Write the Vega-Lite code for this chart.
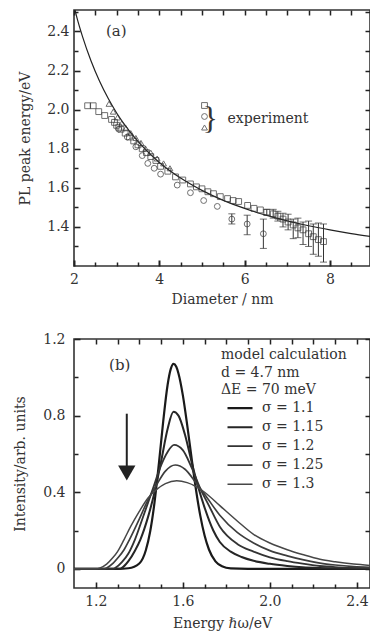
{
  "$schema": "https://vega.github.io/schema/vega-lite/v6.json",
  "padding": {"left": 12, "top": 8, "right": 0, "bottom": 0},
  "spacing": 24,
  "resolve": {"legend": {"color": "independent", "strokeWidth": "independent", "shape": "independent"}},
  "config": {
    "view": {"stroke": "#333", "strokeWidth": 1.6},
    "axis": {"grid": false, "domain": false, "labelFont": "DejaVu Serif", "titleFont": "DejaVu Serif", "labelFontSize": 14, "titleFontSize": 14, "titleFontWeight": "normal", "labelColor": "#333", "titleColor": "#333", "labelFlush": false, "labelOverlap": false},
    "text": {"font": "DejaVu Serif", "color": "#333"}
  },
  "datasets": {
    "theory": [
      {"d": 2.0, "E": 2.53}, {"d": 2.07, "E": 2.47}, {"d": 2.2, "E": 2.374}, {"d": 2.4, "E": 2.249}, {"d": 2.6, "E": 2.145}, {"d": 2.8, "E": 2.058}, {"d": 3.0, "E": 1.983}, {"d": 3.3, "E": 1.89}, {"d": 3.6, "E": 1.813}, {"d": 4.0, "E": 1.73}, {"d": 4.5, "E": 1.65}, {"d": 5.0, "E": 1.587}, {"d": 5.5, "E": 1.536}, {"d": 6.0, "E": 1.495}, {"d": 6.5, "E": 1.46}, {"d": 7.0, "E": 1.431}, {"d": 7.5, "E": 1.406}, {"d": 8.0, "E": 1.385}, {"d": 8.5, "E": 1.366}, {"d": 8.95, "E": 1.351}
    ],
    "pts": [
      {"d": 2.32, "E": 2.02, "t": "sq"}, {"d": 2.45, "E": 2.02, "t": "sq"}, {"d": 2.58, "E": 1.99, "t": "sq"}, {"d": 2.72, "E": 1.97, "t": "sq"}, {"d": 2.88, "E": 1.95, "t": "sq"}, {"d": 2.95, "E": 1.935, "t": "sq"}, {"d": 3.0, "E": 1.92, "t": "sq"}, {"d": 3.05, "E": 1.91, "t": "sq"}, {"d": 3.1, "E": 1.9, "t": "sq"}, {"d": 3.2, "E": 1.88, "t": "sq"}, {"d": 3.3, "E": 1.86, "t": "sq"}, {"d": 3.4, "E": 1.84, "t": "sq"}, {"d": 3.5, "E": 1.82, "t": "sq"}, {"d": 3.6, "E": 1.8, "t": "sq"}, {"d": 3.7, "E": 1.78, "t": "sq"}, {"d": 3.8, "E": 1.76, "t": "sq"}, {"d": 3.92, "E": 1.74, "t": "sq"}, {"d": 4.03, "E": 1.71, "t": "sq"}, {"d": 4.2, "E": 1.685, "t": "sq"}, {"d": 4.38, "E": 1.656, "t": "sq"}, {"d": 4.55, "E": 1.64, "t": "sq"}, {"d": 4.73, "E": 1.62, "t": "sq"}, {"d": 4.87, "E": 1.605, "t": "sq"}, {"d": 5.0, "E": 1.595, "t": "sq"}, {"d": 5.14, "E": 1.58, "t": "sq"}, {"d": 5.27, "E": 1.57, "t": "sq"}, {"d": 5.43, "E": 1.555, "t": "sq"}, {"d": 5.6, "E": 1.545, "t": "sq"}, {"d": 5.73, "E": 1.535, "t": "sq"}, {"d": 5.86, "E": 1.53, "t": "sq"}, {"d": 6.07, "E": 1.51, "t": "sq"}, {"d": 6.22, "E": 1.495, "t": "sq"}, {"d": 6.37, "E": 1.487, "t": "sq"},
      {"d": 6.52, "E": 1.475, "t": "sq", "lo": 1.46, "hi": 1.49}, {"d": 6.67, "E": 1.467, "t": "sq", "lo": 1.445, "hi": 1.49}, {"d": 6.78, "E": 1.455, "t": "sq", "lo": 1.43, "hi": 1.48}, {"d": 6.9, "E": 1.44, "t": "sq", "lo": 1.4, "hi": 1.47}, {"d": 7.02, "E": 1.425, "t": "sq", "lo": 1.385, "hi": 1.465}, {"d": 7.14, "E": 1.41, "t": "sq", "lo": 1.34, "hi": 1.44}, {"d": 7.25, "E": 1.395, "t": "sq", "lo": 1.345, "hi": 1.445}, {"d": 7.37, "E": 1.385, "t": "sq", "lo": 1.31, "hi": 1.425}, {"d": 7.5, "E": 1.365, "t": "sq", "lo": 1.3, "hi": 1.43}, {"d": 7.61, "E": 1.35, "t": "sq", "lo": 1.26, "hi": 1.415}, {"d": 7.73, "E": 1.335, "t": "sq", "lo": 1.25, "hi": 1.42}, {"d": 7.85, "E": 1.325, "t": "sq", "lo": 1.22, "hi": 1.415},
      {"d": 3.05, "E": 1.9, "t": "ci"}, {"d": 3.25, "E": 1.86, "t": "ci"}, {"d": 3.45, "E": 1.81, "t": "ci"}, {"d": 3.6, "E": 1.765, "t": "ci"}, {"d": 3.73, "E": 1.725, "t": "ci"}, {"d": 3.88, "E": 1.7, "t": "ci"}, {"d": 4.03, "E": 1.67, "t": "ci"}, {"d": 4.42, "E": 1.614, "t": "ci"}, {"d": 4.73, "E": 1.575, "t": "ci"}, {"d": 5.04, "E": 1.535, "t": "ci"}, {"d": 5.36, "E": 1.505, "t": "ci"}, {"d": 5.7, "E": 1.44, "t": "ci", "lo": 1.415, "hi": 1.467}, {"d": 6.06, "E": 1.415, "t": "ci", "lo": 1.36, "hi": 1.46}, {"d": 6.44, "E": 1.365, "t": "ci", "lo": 1.29, "hi": 1.44},
      {"d": 2.82, "E": 2.03, "t": "tr"}, {"d": 2.92, "E": 1.99, "t": "tr"}, {"d": 3.02, "E": 1.96, "t": "tr"}, {"d": 3.12, "E": 1.93, "t": "tr"}, {"d": 3.22, "E": 1.905, "t": "tr"}, {"d": 3.33, "E": 1.88, "t": "tr"}, {"d": 3.45, "E": 1.855, "t": "tr"}, {"d": 3.57, "E": 1.83, "t": "tr"}, {"d": 3.68, "E": 1.8, "t": "tr"}, {"d": 3.8, "E": 1.78, "t": "tr"}, {"d": 3.95, "E": 1.75, "t": "tr"}, {"d": 4.1, "E": 1.725, "t": "tr"}, {"d": 4.25, "E": 1.7, "t": "tr"}
    ],
    "spec": [
      {"s": "1.1", "e": 1.1, "I": 0}, {"s": "1.1", "e": 1.3, "I": 0}, {"s": "1.1", "e": 1.35, "I": 0.003}, {"s": "1.1", "e": 1.4, "I": 0.028}, {"s": "1.1", "e": 1.43, "I": 0.097}, {"s": "1.1", "e": 1.45, "I": 0.195}, {"s": "1.1", "e": 1.47, "I": 0.347}, {"s": "1.1", "e": 1.49, "I": 0.549}, {"s": "1.1", "e": 1.51, "I": 0.771}, {"s": "1.1", "e": 1.53, "I": 0.96}, {"s": "1.1", "e": 1.545, "I": 1.045}, {"s": "1.1", "e": 1.557, "I": 1.07}, {"s": "1.1", "e": 1.57, "I": 1.055}, {"s": "1.1", "e": 1.58, "I": 1.02}, {"s": "1.1", "e": 1.6, "I": 0.907}, {"s": "1.1", "e": 1.62, "I": 0.752}, {"s": "1.1", "e": 1.64, "I": 0.58}, {"s": "1.1", "e": 1.66, "I": 0.417}, {"s": "1.1", "e": 1.68, "I": 0.279}, {"s": "1.1", "e": 1.7, "I": 0.174}, {"s": "1.1", "e": 1.72, "I": 0.101}, {"s": "1.1", "e": 1.75, "I": 0.039}, {"s": "1.1", "e": 1.78, "I": 0.013}, {"s": "1.1", "e": 1.82, "I": 0.002}, {"s": "1.1", "e": 1.9, "I": 0}, {"s": "1.1", "e": 2.46, "I": 0},
      {"s": "1.15", "e": 1.1, "I": 0}, {"s": "1.15", "e": 1.31, "I": 0}, {"s": "1.15", "e": 1.32, "I": 0.005}, {"s": "1.15", "e": 1.35, "I": 0.04}, {"s": "1.15", "e": 1.38, "I": 0.095}, {"s": "1.15", "e": 1.405, "I": 0.153}, {"s": "1.15", "e": 1.44, "I": 0.27}, {"s": "1.15", "e": 1.47, "I": 0.4}, {"s": "1.15", "e": 1.5, "I": 0.56}, {"s": "1.15", "e": 1.53, "I": 0.73}, {"s": "1.15", "e": 1.557, "I": 0.82}, {"s": "1.15", "e": 1.58, "I": 0.8}, {"s": "1.15", "e": 1.61, "I": 0.7}, {"s": "1.15", "e": 1.64, "I": 0.56}, {"s": "1.15", "e": 1.67, "I": 0.43}, {"s": "1.15", "e": 1.7, "I": 0.32}, {"s": "1.15", "e": 1.74, "I": 0.2}, {"s": "1.15", "e": 1.77, "I": 0.14}, {"s": "1.15", "e": 1.82, "I": 0.09}, {"s": "1.15", "e": 1.87, "I": 0.062}, {"s": "1.15", "e": 1.925, "I": 0.042}, {"s": "1.15", "e": 2.0, "I": 0.026}, {"s": "1.15", "e": 2.08, "I": 0.015}, {"s": "1.15", "e": 2.15, "I": 0.008}, {"s": "1.15", "e": 2.23, "I": 0.004}, {"s": "1.15", "e": 2.3, "I": 0.002}, {"s": "1.15", "e": 2.46, "I": 0},
      {"s": "1.2", "e": 1.1, "I": 0}, {"s": "1.2", "e": 1.28, "I": 0}, {"s": "1.2", "e": 1.29, "I": 0.005}, {"s": "1.2", "e": 1.32, "I": 0.035}, {"s": "1.2", "e": 1.35, "I": 0.08}, {"s": "1.2", "e": 1.38, "I": 0.153}, {"s": "1.2", "e": 1.42, "I": 0.28}, {"s": "1.2", "e": 1.46, "I": 0.41}, {"s": "1.2", "e": 1.5, "I": 0.54}, {"s": "1.2", "e": 1.53, "I": 0.61}, {"s": "1.2", "e": 1.56, "I": 0.647}, {"s": "1.2", "e": 1.6, "I": 0.62}, {"s": "1.2", "e": 1.64, "I": 0.53}, {"s": "1.2", "e": 1.68, "I": 0.42}, {"s": "1.2", "e": 1.72, "I": 0.33}, {"s": "1.2", "e": 1.77, "I": 0.22}, {"s": "1.2", "e": 1.85, "I": 0.13}, {"s": "1.2", "e": 1.925, "I": 0.09}, {"s": "1.2", "e": 2.0, "I": 0.06}, {"s": "1.2", "e": 2.08, "I": 0.04}, {"s": "1.2", "e": 2.15, "I": 0.027}, {"s": "1.2", "e": 2.23, "I": 0.015}, {"s": "1.2", "e": 2.3, "I": 0.009}, {"s": "1.2", "e": 2.385, "I": 0.005}, {"s": "1.2", "e": 2.46, "I": 0.003},
      {"s": "1.25", "e": 1.1, "I": 0}, {"s": "1.25", "e": 1.24, "I": 0}, {"s": "1.25", "e": 1.25, "I": 0.005}, {"s": "1.25", "e": 1.28, "I": 0.03}, {"s": "1.25", "e": 1.3, "I": 0.055}, {"s": "1.25", "e": 1.33, "I": 0.1}, {"s": "1.25", "e": 1.355, "I": 0.153}, {"s": "1.25", "e": 1.4, "I": 0.26}, {"s": "1.25", "e": 1.44, "I": 0.36}, {"s": "1.25", "e": 1.48, "I": 0.44}, {"s": "1.25", "e": 1.52, "I": 0.51}, {"s": "1.25", "e": 1.565, "I": 0.542}, {"s": "1.25", "e": 1.61, "I": 0.52}, {"s": "1.25", "e": 1.66, "I": 0.45}, {"s": "1.25", "e": 1.7, "I": 0.39}, {"s": "1.25", "e": 1.77, "I": 0.28}, {"s": "1.25", "e": 1.85, "I": 0.19}, {"s": "1.25", "e": 1.925, "I": 0.135}, {"s": "1.25", "e": 2.0, "I": 0.095}, {"s": "1.25", "e": 2.08, "I": 0.068}, {"s": "1.25", "e": 2.15, "I": 0.048}, {"s": "1.25", "e": 2.23, "I": 0.03}, {"s": "1.25", "e": 2.3, "I": 0.02}, {"s": "1.25", "e": 2.385, "I": 0.012}, {"s": "1.25", "e": 2.46, "I": 0.008},
      {"s": "1.3", "e": 1.1, "I": 0}, {"s": "1.3", "e": 1.2, "I": 0}, {"s": "1.3", "e": 1.22, "I": 0.005}, {"s": "1.3", "e": 1.25, "I": 0.025}, {"s": "1.3", "e": 1.28, "I": 0.06}, {"s": "1.3", "e": 1.3, "I": 0.09}, {"s": "1.3", "e": 1.33, "I": 0.153}, {"s": "1.3", "e": 1.36, "I": 0.22}, {"s": "1.3", "e": 1.4, "I": 0.3}, {"s": "1.3", "e": 1.44, "I": 0.37}, {"s": "1.3", "e": 1.48, "I": 0.415}, {"s": "1.3", "e": 1.52, "I": 0.445}, {"s": "1.3", "e": 1.572, "I": 0.46}, {"s": "1.3", "e": 1.62, "I": 0.45}, {"s": "1.3", "e": 1.66, "I": 0.43}, {"s": "1.3", "e": 1.7, "I": 0.4}, {"s": "1.3", "e": 1.77, "I": 0.33}, {"s": "1.3", "e": 1.85, "I": 0.25}, {"s": "1.3", "e": 1.925, "I": 0.18}, {"s": "1.3", "e": 2.0, "I": 0.135}, {"s": "1.3", "e": 2.08, "I": 0.1}, {"s": "1.3", "e": 2.15, "I": 0.075}, {"s": "1.3", "e": 2.23, "I": 0.05}, {"s": "1.3", "e": 2.3, "I": 0.037}, {"s": "1.3", "e": 2.385, "I": 0.025}, {"s": "1.3", "e": 2.46, "I": 0.018}
    ]
  },
  "vconcat": [
    {
      "width": 296,
      "height": 256,
      "resolve": {"axis": {"x": "independent", "y": "independent"}},
      "layer": [
        {
          "data": {"name": "theory"},
          "mark": {"type": "line", "color": "#222", "strokeWidth": 1.2, "clip": true, "interpolate": "monotone"},
          "encoding": {
            "x": {"field": "d", "type": "quantitative", "scale": {"domain": [2, 8.94], "nice": false, "zero": false},
              "axis": {"orient": "bottom", "values": [2, 4, 6, 8], "format": "d", "ticks": false, "labelPadding": 6, "title": "Diameter / nm", "titlePadding": 6}},
            "y": {"field": "E", "type": "quantitative", "scale": {"domain": [1.2, 2.51], "nice": false, "zero": false},
              "axis": {"orient": "left", "values": [1.4, 1.6, 1.8, 2.0, 2.2, 2.4], "format": ".1f", "ticks": false, "labelPadding": 5, "title": "PL peak energy/eV", "titlePadding": 14}}
          }
        },
        {
          "data": {"name": "pts"},
          "mark": {"type": "point", "filled": false, "size": 34, "stroke": "#333", "strokeWidth": 1, "clip": true},
          "encoding": {
            "x": {"field": "d", "type": "quantitative",
              "axis": {"orient": "bottom", "values": [2, 4, 6, 8], "labels": false, "tickSize": -6, "tickColor": "#222", "tickWidth": 2, "title": null}},
            "y": {"field": "E", "type": "quantitative",
              "axis": {"orient": "left", "values": [1.4, 1.6, 1.8, 2.0, 2.2, 2.4], "labels": false, "tickSize": -6, "tickColor": "#222", "tickWidth": 1.6, "title": null}},
            "shape": {"field": "t", "type": "nominal", "scale": {"domain": ["sq", "ci", "tr"], "range": ["square", "circle", "triangle-up"]},
              "legend": {"orient": "none", "legendX": 125.5, "legendY": 90, "title": null, "padding": 0, "symbolSize": 34, "symbolStrokeColor": "#333", "symbolStrokeWidth": 1, "symbolFillColor": "transparent", "clipHeight": 11, "rowPadding": 0, "symbolOffset": 0, "labelExpr": "''"}}
          }
        },
        {
          "data": {"name": "pts"},
          "transform": [{"filter": "isValid(datum.lo)"}],
          "mark": {"type": "rule", "color": "#333", "strokeWidth": 1},
          "encoding": {
            "x": {"field": "d", "type": "quantitative",
              "axis": {"orient": "bottom", "values": [2.5, 3, 3.5, 4.5, 5, 5.5, 6.5, 7, 7.5, 8.5], "labels": false, "tickSize": -4, "tickColor": "#222", "tickWidth": 1.5, "title": null}},
            "y": {"field": "lo", "type": "quantitative",
              "axis": {"orient": "left", "values": [1.3, 1.5, 1.7, 1.9, 2.1, 2.3, 2.5], "labels": false, "tickSize": -4, "tickColor": "#222", "tickWidth": 1.5, "title": null}},
            "y2": {"field": "hi"}
          }
        },
        {
          "data": {"name": "pts"},
          "transform": [{"filter": "isValid(datum.lo)"}],
          "mark": {"type": "tick", "orient": "horizontal", "color": "#333", "size": 7, "thickness": 1},
          "encoding": {
            "x": {"field": "d", "type": "quantitative",
              "axis": {"orient": "top", "values": [2, 2.5, 3, 3.5, 4, 4.5, 5, 5.5, 6, 6.5, 7, 7.5, 8, 8.5], "labels": false, "tickSize": -5, "tickColor": "#222", "tickWidth": 1.5, "title": null}},
            "y": {"field": "lo", "type": "quantitative",
              "axis": {"orient": "right", "values": [1.3, 1.4, 1.5, 1.6, 1.7, 1.8, 1.9, 2.0, 2.1, 2.2, 2.3, 2.4, 2.5], "labels": false, "tickSize": -5, "tickColor": "#222", "tickWidth": 1.5, "title": null}}
          }
        },
        {
          "data": {"name": "pts"},
          "transform": [{"filter": "isValid(datum.hi)"}],
          "mark": {"type": "tick", "orient": "horizontal", "color": "#333", "size": 7, "thickness": 1},
          "encoding": {
            "x": {"field": "d", "type": "quantitative", "axis": null},
            "y": {"field": "hi", "type": "quantitative", "axis": null}
          }
        },
        {
          "data": {"values": [{}]},
          "mark": {"type": "text", "fontSize": 15, "align": "center", "baseline": "middle"},
          "encoding": {
            "x": {"datum": 2.99, "type": "quantitative", "axis": null},
            "y": {"datum": 2.4, "type": "quantitative", "axis": null},
            "text": {"value": "(a)"}
          }
        },
        {
          "data": {"values": [{}]},
          "mark": {"type": "text", "font": "Liberation Serif", "fontSize": 32, "align": "center", "baseline": "middle"},
          "encoding": {
            "x": {"datum": 5.19, "type": "quantitative", "axis": null},
            "y": {"datum": 1.952, "type": "quantitative", "axis": null},
            "text": {"value": "}"}
          }
        },
        {
          "data": {"values": [{}]},
          "mark": {"type": "text", "fontSize": 14, "align": "left", "baseline": "middle"},
          "encoding": {
            "x": {"datum": 5.6, "type": "quantitative", "axis": null},
            "y": {"datum": 1.952, "type": "quantitative", "axis": null},
            "text": {"value": "experiment"}
          }
        }
      ]
    },
    {
      "width": 296,
      "height": 249,
      "resolve": {"axis": {"x": "independent", "y": "independent"}},
      "layer": [
        {
          "data": {"name": "spec"},
          "mark": {"type": "line", "interpolate": "monotone", "clip": true},
          "encoding": {
            "x": {"field": "e", "type": "quantitative", "scale": {"domain": [1.1, 2.46], "nice": false, "zero": false},
              "axis": {"orient": "bottom", "values": [1.2, 1.6, 2.0, 2.4], "format": ".1f", "ticks": false, "labelPadding": 6, "title": "Energy ℏω/eV", "titlePadding": 8}},
            "y": {"field": "I", "type": "quantitative", "scale": {"domain": [-0.1, 1.2], "nice": false, "zero": false},
              "axis": {"orient": "left", "values": [0, 0.4, 0.8, 1.2], "format": ".1~f", "ticks": false, "labelPadding": 9, "title": "Intensity/arb. units", "titlePadding": 15}},
            "color": {"field": "s", "type": "nominal", "scale": {"domain": ["1.1", "1.15", "1.2", "1.25", "1.3"], "range": ["#1a1a1a", "#262626", "#333333", "#3d3d3d", "#474747"]},
              "legend": {"orient": "none", "legendX": 147, "legendY": 9, "title": ["model calculation", "d = 4.7 nm", "ΔE = 70 meV"], "titleFont": "DejaVu Serif", "titleFontSize": 14, "titleFontWeight": "normal", "titleColor": "#333", "titleLineHeight": 17.5, "titlePadding": 2, "titleLimit": 300, "padding": 0, "symbolType": "stroke", "symbolSize": 625, "symbolOffset": 5, "clipHeight": 18.3, "rowPadding": 0, "labelFont": "DejaVu Serif", "labelFontSize": 14, "labelColor": "#333", "labelOffset": 8, "labelExpr": "'σ = ' + datum.label"}},
            "strokeWidth": {"field": "s", "type": "nominal", "scale": {"domain": ["1.1", "1.15", "1.2", "1.25", "1.3"], "range": [2.2, 1.5, 2.2, 1.4, 1.8]}}
          }
        },
        {
          "data": {"values": [{}]},
          "mark": {"type": "rule", "color": "#222", "strokeWidth": 2},
          "encoding": {
            "x": {"datum": 1.3425, "type": "quantitative",
              "axis": {"orient": "bottom", "values": [1.2, 1.6, 2.0, 2.4], "labels": false, "tickSize": -6, "tickColor": "#222", "tickWidth": 1.6, "title": null}},
            "y": {"datum": 0.81, "type": "quantitative",
              "axis": {"orient": "left", "values": [0, 0.4, 0.8, 1.2], "labels": false, "tickSize": -6, "tickColor": "#222", "tickWidth": 1.6, "title": null}},
            "y2": {"datum": 0.53}
          }
        },
        {
          "data": {"values": [{}]},
          "mark": {"type": "point", "shape": "triangle-down", "filled": true, "size": 300, "color": "#222", "opacity": 1},
          "encoding": {
            "x": {"datum": 1.3425, "type": "quantitative",
              "axis": {"orient": "bottom", "values": [1.3, 1.4, 1.5, 1.7, 1.8, 1.9, 2.1, 2.2, 2.3], "labels": false, "tickSize": -4, "tickColor": "#222", "tickWidth": 1.5, "title": null}},
            "y": {"datum": 0.5, "type": "quantitative",
              "axis": {"orient": "left", "values": [0.2, 0.6, 1.0], "labels": false, "tickSize": -4, "tickColor": "#222", "tickWidth": 1.5, "title": null}}
          }
        },
        {
          "data": {"values": [{}]},
          "mark": {"type": "text", "fontSize": 15, "align": "center", "baseline": "middle"},
          "encoding": {
            "x": {"datum": 1.31, "type": "quantitative",
              "axis": {"orient": "top", "values": [1.2, 1.3, 1.4, 1.5, 1.6, 1.7, 1.8, 1.9, 2.0, 2.1, 2.2, 2.3, 2.4], "labels": false, "tickSize": -5, "tickColor": "#222", "tickWidth": 1.5, "title": null}},
            "y": {"datum": 1.065, "type": "quantitative",
              "axis": {"orient": "right", "values": [0, 0.2, 0.4, 0.6, 0.8, 1.0, 1.2], "labels": false, "tickSize": -5, "tickColor": "#222", "tickWidth": 1.5, "title": null}},
            "text": {"value": "(b)"}
          }
        }
      ]
    }
  ]
}
